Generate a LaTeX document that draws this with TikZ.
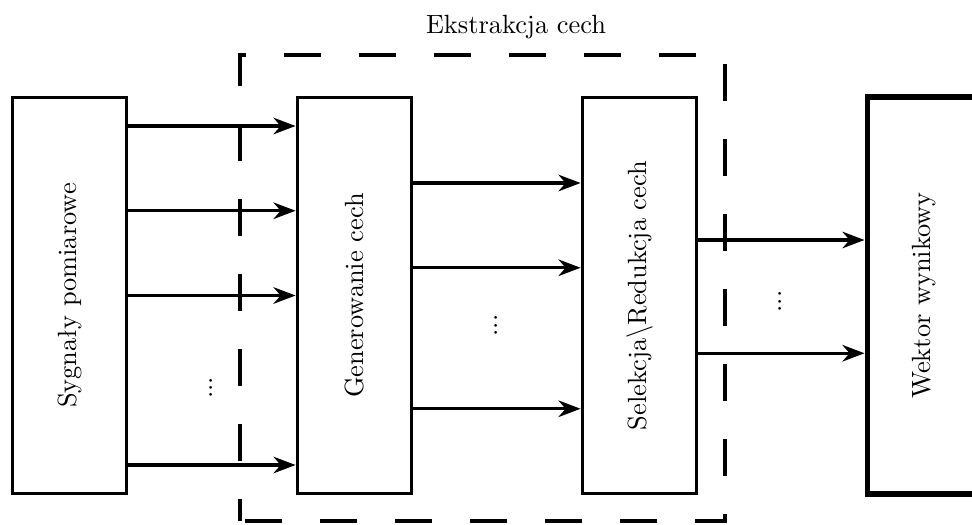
\documentclass[tikz,border=0pt]{standalone}
\usetikzlibrary{arrows.meta}

\begin{document}
\begin{tikzpicture}[x=1cm,y=1cm,>=Stealth,
  blok/.style={draw,very thick,minimum width=1.53cm,minimum height=5.29cm,inner sep=0pt},
  strz/.style={->,very thick}]
  \useasboundingbox (-0.927,-3.047) rectangle (12.033,3.94);
  % bloki
  \node[blok] (sygnaly) at (0,0) {\rotatebox{90}{Sygnały pomiarowe}};
  \node[blok] (generowanie) at (3.8,0) {\rotatebox{90}{Generowanie cech}};
  \node[blok] (selekcja) at (7.6,0) {\rotatebox{90}{Selekcja\textbackslash Redukcja cech}};
  \node[blok,line width=2pt] (wektor) at (11.4,0) {\rotatebox{90}{Wektor wynikowy}};
  % ramka ekstrakcji
  \draw[very thick,dash pattern=on 0.5cm off 0.5cm,dash phase=0.2cm] (2.273,-3.007) rectangle (8.74,3.207);
  \node (tytul) at (5.953,3.58) {Ekstrakcja cech};
  % polaczenia
  \foreach \y in {2.26,1.13,0,-2.26}
    \draw[strz] ([yshift=\y cm]sygnaly.east) -- ([yshift=\y cm]generowanie.west);
  \foreach \y in {1.5,0.37,-1.51}
    \draw[strz] ([yshift=\y cm]generowanie.east) -- ([yshift=\y cm]selekcja.west);
  \foreach \y in {0.74,-0.77}
    \draw[strz] ([yshift=\y cm]selekcja.east) -- ([yshift=\y cm]wektor.west);
  \node[rotate=90] (kropki1) at (1.887,-1.23) {...};
  \node[rotate=90] (kropki2) at (5.687,-0.4) {...};
  \node[rotate=90] (kropki3) at (9.473,-0.08) {...};
\end{tikzpicture}
\end{document}
